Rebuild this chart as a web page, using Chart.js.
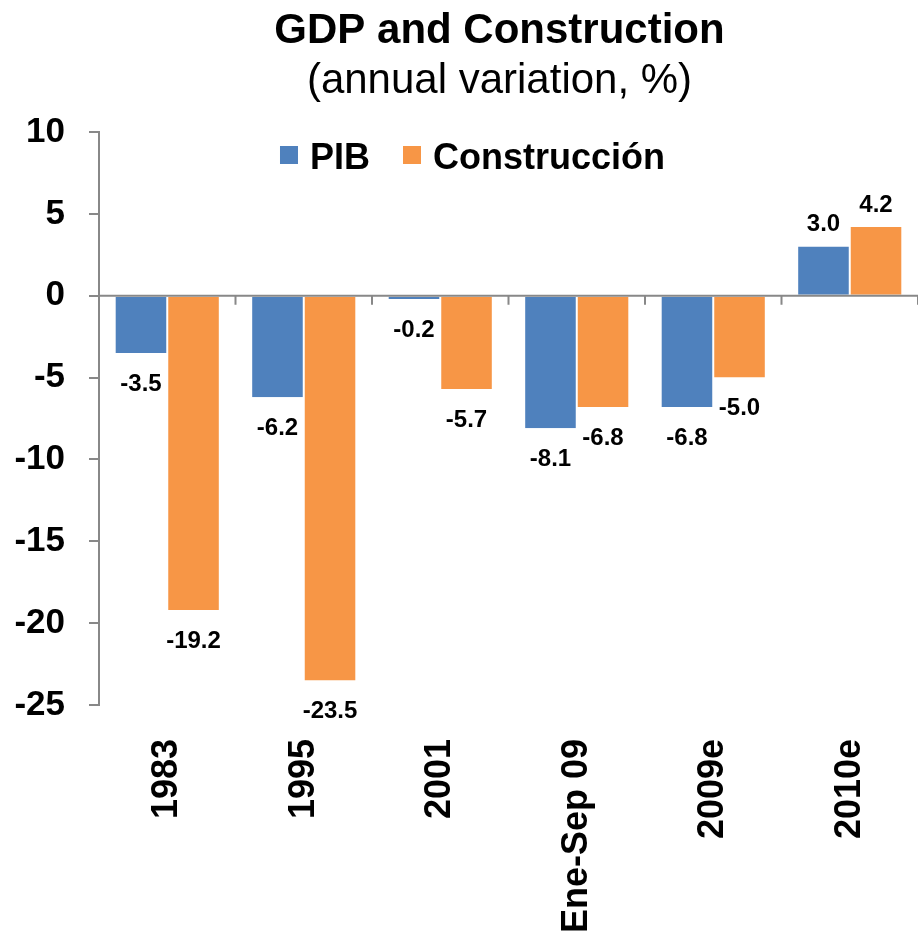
<!DOCTYPE html>
<html>
<head>
<meta charset="utf-8">
<script src="https://cdn.jsdelivr.net/npm/chart.js@4.4.1/dist/chart.umd.min.js"></script>
<style>
  html, body { margin: 0; padding: 0; background: #fff; }
  #wrap { width: 918px; height: 937px; position: relative; }
</style>
</head>
<body>
<div id="wrap"><canvas id="chart"></canvas></div>
<script>
// --- data ---
const categories = ["1983", "1995", "2001", "Ene-Sep 09", "2009e", "2010e"];
const seriesNames = ["PIB", "Construcción"];
const pibValues = [-3.5, -6.2, -0.2, -8.1, -6.8, 3.0];
const construccionValues = [-19.2, -23.5, -5.7, -6.8, -5.0, 4.2];
const yMin = -25;
const yMax = 10;
const yStep = 5;
const titleText = "GDP and Construction";
const subtitleText = "(annual variation, %)";

const FONT = '"Liberation Sans", Arial, Helvetica, sans-serif';
const BLUE = "#4F81BD";
const ORANGE = "#F79646";
const AXIS_GREY = "#888888";

// title + subtitle, centred over the plot like the Excel original
const headerPlugin = {
    id: "header",
    afterDraw(chart) {
        const { ctx, chartArea } = chart;
        const cx = (chartArea.left + chartArea.right) / 2 - 9;
        ctx.save();
        ctx.fillStyle = "#000";
        ctx.textAlign = "center";
        ctx.textBaseline = "middle";
        ctx.font = `bold 42px ${FONT}`;
        ctx.fillText(titleText, cx, 31);
        ctx.font = `42px ${FONT}`;
        ctx.fillText(subtitleText, cx, 81);
        ctx.restore();
    },
};

// floating legend inside the plot area
const floatLegendPlugin = {
    id: "floatLegend",
    afterDraw(chart) {
        const { ctx, chartArea } = chart;
        const box = 18, gapText = 12, gapItem = 33;
        ctx.save();
        ctx.font = `bold 36px ${FONT}`;
        const widths = seriesNames.map((n) => ctx.measureText(n).width);
        const total = widths.reduce((s, w) => s + box + gapText + w, 0) + gapItem * (seriesNames.length - 1);
        let x = (chartArea.left + chartArea.right) / 2 - 36 - total / 2;
        const baseline = chartArea.top + 37;
        ctx.textBaseline = "alphabetic";
        ctx.textAlign = "left";
        seriesNames.forEach((name, i) => {
            ctx.fillStyle = chart.data.datasets[i].backgroundColor;
            ctx.fillRect(x, baseline - 23, box, box);
            x += box + gapText;
            ctx.fillStyle = "#000";
            ctx.fillText(name, x, baseline);
            x += widths[i] + gapItem;
        });
        ctx.restore();
    },
};

// horizontal zero line with small category-boundary ticks
const zeroLinePlugin = {
    id: "zeroLine",
    afterDatasetsDraw(chart) {
        const { ctx, chartArea, scales } = chart;
        const y0 = scales.y.getPixelForValue(0);
        ctx.save();
        ctx.strokeStyle = AXIS_GREY;
        ctx.lineWidth = 2;
        ctx.beginPath();
        ctx.moveTo(chartArea.left, y0);
        ctx.lineTo(chartArea.right, y0);
        for (let j = 1; j <= categories.length; j++) {
            const bx = j < categories.length
                ? (scales.x.getPixelForValue(j - 1) + scales.x.getPixelForValue(j)) / 2
                : chartArea.right;
            ctx.moveTo(bx, y0);
            ctx.lineTo(bx, y0 + 9);
        }
        ctx.stroke();
        ctx.restore();
    },
};

// value labels at the end of each bar
const valueLabelPlugin = {
    id: "valueLabels",
    afterDatasetsDraw(chart) {
        const { ctx } = chart;
        ctx.save();
        ctx.fillStyle = "#000";
        ctx.font = `bold 24px ${FONT}`;
        ctx.textAlign = "center";
        ctx.textBaseline = "middle";
        chart.data.datasets.forEach((ds, i) => {
            chart.getDatasetMeta(i).data.forEach((bar, j) => {
                const v = ds.data[j];
                const y = v < 0 ? bar.y + 31 : bar.y - 22;
                ctx.fillText(v.toFixed(1), bar.x, y);
            });
        });
        ctx.restore();
    },
};

new Chart(document.getElementById("chart"), {
    type: "bar",
    data: {
        labels: categories,
        datasets: [
            { label: seriesNames[0], data: pibValues, backgroundColor: BLUE },
            { label: seriesNames[1], data: construccionValues, backgroundColor: ORANGE },
        ],
    },
    options: {
        responsive: true,
        maintainAspectRatio: false,
        animation: false,
        devicePixelRatio: 1,
        layout: { padding: { top: 132, left: 0, right: -6, bottom: 0 } },
        datasets: {
            bar: {
                categoryPercentage: 0.77,
                barPercentage: 1.0,
                borderWidth: { left: 1, right: 1, top: 0, bottom: 0 },
                borderColor: "rgba(255,255,255,0.6)",
            },
        },
        plugins: {
            legend: { display: false },
            title: { display: false },
            tooltip: { enabled: false },
        },
        scales: {
            x: {
                grid: { display: false, drawTicks: false },
                border: { display: false },
                afterFit(scale) {
                    scale.height = 232;
                    scale.paddingLeft = -6;
                    scale.paddingRight = -6;
                },
                ticks: {
                    autoSkip: false,
                    minRotation: 90,
                    maxRotation: 90,
                    padding: 34,
                    color: "#000",
                    font: { family: FONT, size: 36, weight: "bold" },
                },
            },
            y: {
                min: yMin,
                max: yMax,
                afterFit(scale) {
                    scale.width = 99;
                    scale.paddingLeft = -6;
                    scale.paddingRight = -6;
                },
                border: { display: true, color: AXIS_GREY, width: 2 },
                grid: {
                    display: true,
                    drawOnChartArea: false,
                    drawTicks: true,
                    tickLength: 10,
                    color: AXIS_GREY,
                    lineWidth: 2,
                },
                ticks: {
                    stepSize: yStep,
                    padding: 24,
                    color: "#000",
                    font: { family: FONT, size: 35, weight: "bold" },
                },
            },
        },
    },
    plugins: [zeroLinePlugin, valueLabelPlugin, floatLegendPlugin, headerPlugin],
});
</script>
</body>
</html>
